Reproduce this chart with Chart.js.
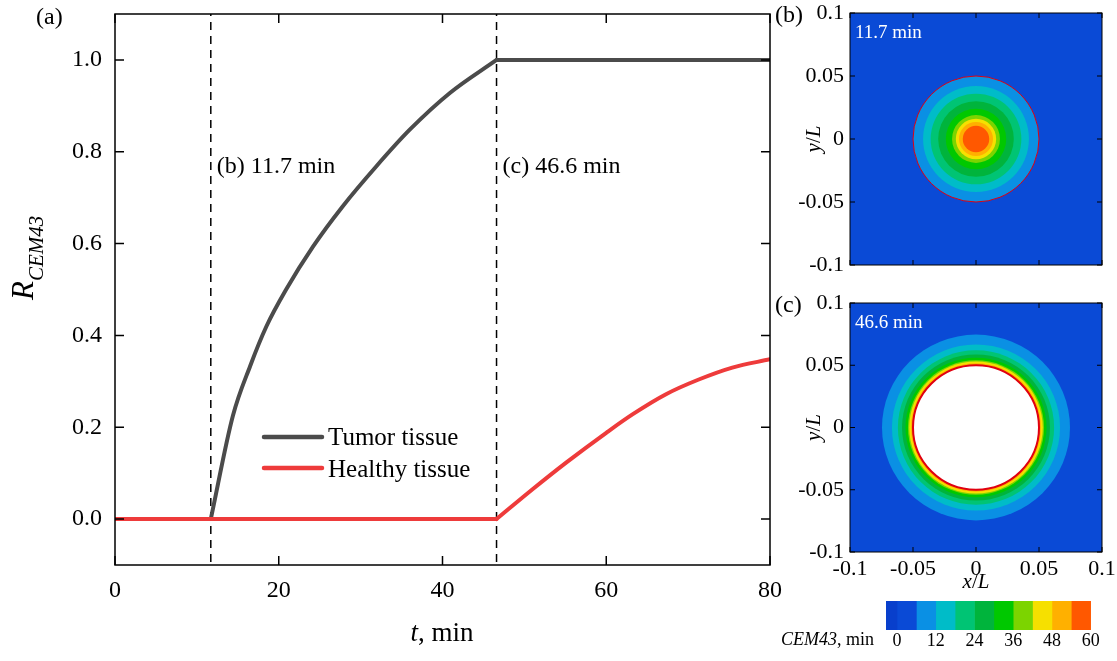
<!DOCTYPE html>
<html>
<head>
<meta charset="utf-8">
<script src="https://cdn.jsdelivr.net/npm/chart.js@4.4.0/dist/chart.umd.min.js"></script>
<style>
    html, body { margin: 0; padding: 0; background: #fff; }
    #page { position: relative; width: 1117px; height: 661px; overflow: hidden; }
    canvas { position: absolute; }
</style>
</head>
<body>
<div id="page">
    <canvas id="mainChart" width="790" height="661" style="left:0;top:0"></canvas>
    <canvas id="panelB" width="347" height="290" style="left:770px;top:0"></canvas>
    <canvas id="panelC" width="347" height="305" style="left:770px;top:290px"></canvas>
    <canvas id="colorBar" width="347" height="66" style="left:770px;top:595px"></canvas>
</div>
<script>
"use strict";

var FONT = "'Liberation Serif', 'Times New Roman', serif";

// ---- panel (a): R_CEM43 against time ----
var timeTicks = [0, 20, 40, 60, 80];
var ratioTicks = [0, 0.2, 0.4, 0.6, 0.8, 1.0];
var markerTimes = [11.7, 46.6];
var markerLabels = ['(b) 11.7 min', '(c) 46.6 min'];

var tumorT = [0, 11.7, 14.4, 16.5, 18.5, 20.9, 24.2, 27.8, 31.9, 36.0, 40.9, 46.6, 80];
var tumorR = [0, 0, 0.225, 0.333, 0.42, 0.50, 0.594, 0.681, 0.768, 0.848, 0.928, 1.0, 1.0];

var healthyT = [0, 46.6, 51.0, 55.1, 60.0, 63.2, 67.3, 71.3, 75.4, 80];
var healthyR = [0, 0, 0.065, 0.123, 0.188, 0.228, 0.272, 0.304, 0.330, 0.348];

// ---- panels (b), (c): CEM43 contours ----
var panelTicks = [-0.1, -0.05, 0, 0.05, 0.1];
var tumorRadius = 0.05;
// outer radius of each CEM43 band 6-12, 12-18, ... 54-60 min
var ringRadiusB = [0.05, 0.042, 0.036, 0.030, 0.024, 0.019, 0.016, 0.0135, 0.0105];
var ringRadiusC = [0.0746, 0.0667, 0.062, 0.0587, 0.056, 0.054, 0.053, 0.0516, 0.0505];
var holeRadiusC = 0.05;   // region above 60 min

// ---- colour bar ----
var cbTicks = [0, 12, 24, 36, 48, 60];
var cbLevels = [-3.4, 0, 6, 12, 18, 24, 30, 36, 42, 48, 54, 60, 62.9];
var cbColors = ['#083fcc', '#0a4ad6', '#0a90e4', '#00bcc8', '#00c474', '#00b43c',
    '#00c800', '#7cd400', '#f6e000', '#ffb000', '#ff5800', '#ffffff'];
var ringColors = cbColors.slice(2, 11);

function pts(ts, rs, from, to) {
    var out = [];
    for (var i = from; i <= to; i++) out.push({ x: ts[i], y: rs[i] });
    return out;
}

function drawRuns(ctx, runs, x, y, align) {
    var total = 0;
    runs.forEach(function (r) {
        ctx.font = r.font;
        r.w = ctx.measureText(r.text).width;
        total += r.w;
    });
    var cx = align === 'center' ? x - total / 2 : (align === 'right' ? x - total : x);
    ctx.textAlign = 'left';
    ctx.textBaseline = 'alphabetic';
    runs.forEach(function (r) {
        ctx.font = r.font;
        ctx.fillText(r.text, cx, y + (r.dy || 0));
        cx += r.w;
    });
}

// frame with ticks pointing inward on all four sides
function drawFrame(chart, len, width) {
    var ctx = chart.ctx, a = chart.chartArea, xs = chart.scales.x, ys = chart.scales.y;
    ctx.save();
    ctx.strokeStyle = '#000';
    ctx.lineWidth = width;
    ctx.strokeRect(a.left, a.top, a.right - a.left, a.bottom - a.top);
    ctx.beginPath();
    xs.ticks.forEach(function (t) {
        var px = xs.getPixelForValue(t.value);
        ctx.moveTo(px, a.bottom); ctx.lineTo(px, a.bottom - len);
        ctx.moveTo(px, a.top); ctx.lineTo(px, a.top + len);
    });
    ys.ticks.forEach(function (t) {
        var py = ys.getPixelForValue(t.value);
        ctx.moveTo(a.left, py); ctx.lineTo(a.left + len, py);
        ctx.moveTo(a.right, py); ctx.lineTo(a.right - len, py);
    });
    ctx.stroke();
    ctx.restore();
}

function setTicks(list) {
    return function (scale) {
        scale.ticks = list.map(function (v) { return { value: v }; });
    };
}

// pin the axis box size and drop the label overflow padding
function fixHeight(h) {
    return function (s) { s.height = h; s.paddingLeft = 0; s.paddingRight = 0; };
}
function fixWidth(w) {
    return function (s) { s.width = w; s.paddingTop = 0; s.paddingBottom = 0; };
}

var noGrid = { display: false, drawTicks: false };

// ================= main chart =================
var tumorColor = '#4b4b4b';
var healthyColor = '#ee3b3b';

function lineSet(data, color, order, smooth) {
    return {
        data: data,
        borderColor: color,
        borderWidth: 4,
        borderCapStyle: 'round',
        pointRadius: 0,
        fill: false,
        order: order,
        cubicInterpolationMode: smooth ? 'monotone' : 'default',
        tension: 0
    };
}

var mainSets = [
    lineSet(pts(healthyT, healthyR, 0, 1), healthyColor, 0, false),
    lineSet(pts(healthyT, healthyR, 1, healthyT.length - 1), healthyColor, 0, true),
    lineSet(pts(tumorT, tumorR, 0, 1), tumorColor, 1, false),
    lineSet(pts(tumorT, tumorR, 1, 11), tumorColor, 1, true),
    lineSet(pts(tumorT, tumorR, 11, 12), tumorColor, 1, false)
];
markerTimes.forEach(function (t) {
    mainSets.push({
        data: [{ x: t, y: 1.1 }, { x: t, y: -0.1 }],
        borderColor: '#000',
        borderWidth: 1.5,
        borderDash: [8, 6],
        borderDashOffset: 6,
        pointRadius: 0,
        order: 2
    });
});

var mainDecor = {
    id: 'mainDecor',
    afterDraw: function (chart) {
        var ctx = chart.ctx, xs = chart.scales.x;
        drawFrame(chart, 9, 1.5);
        ctx.save();
        ctx.fillStyle = '#000';
        // marker captions
        markerTimes.forEach(function (t, i) {
            drawRuns(ctx, [{ text: markerLabels[i], font: '24px ' + FONT }], xs.getPixelForValue(t) + 6, 173, 'left');
        });
        // legend
        var items = [['Tumor tissue', tumorColor, 437, 445], ['Healthy tissue', healthyColor, 468, 477]];
        items.forEach(function (it) {
            ctx.strokeStyle = it[1];
            ctx.lineWidth = 4.5;
            ctx.lineCap = 'round';
            ctx.beginPath();
            ctx.moveTo(264, it[2]); ctx.lineTo(322, it[2]);
            ctx.stroke();
            drawRuns(ctx, [{ text: it[0], font: '25px ' + FONT }], 328, it[3], 'left');
        });
        // panel label
        drawRuns(ctx, [{ text: '(a)', font: '24px ' + FONT }], 36, 24, 'left');
        // x title
        drawRuns(ctx, [{ text: 't', font: 'italic 27px ' + FONT }, { text: ', min', font: '27px ' + FONT }], 442, 641, 'center');
        // y title
        ctx.translate(33, 300);
        ctx.rotate(-Math.PI / 2);
        drawRuns(ctx, [{ text: 'R', font: 'italic 31px ' + FONT }, { text: 'CEM43', font: 'italic 21px ' + FONT, dy: 10 }], 0, 0, 'left');
        ctx.restore();
    }
};

new Chart(document.getElementById('mainChart'), {
    type: 'line',
    data: { datasets: mainSets },
    options: {
        responsive: false,
        animation: false,
        layout: { padding: { top: 14, right: 20, left: 0, bottom: 0 } },
        plugins: { legend: { display: false }, tooltip: { enabled: false } },
        scales: {
            x: {
                type: 'linear', min: 0, max: 80,
                afterBuildTicks: setTicks(timeTicks),
                afterFit: fixHeight(96),
                grid: noGrid, border: { display: false },
                ticks: { color: '#000', font: { family: FONT, size: 24 }, padding: 11, maxRotation: 0, autoSkip: false }
            },
            y: {
                type: 'linear', min: -0.1, max: 1.1,
                afterBuildTicks: setTicks(ratioTicks),
                afterFit: fixWidth(115),
                grid: noGrid, border: { display: false },
                ticks: {
                    color: '#000', font: { family: FONT, size: 24 }, padding: 13,
                    callback: function (v) { return v.toFixed(1); }
                }
            }
        }
    },
    plugins: [mainDecor]
});

// ================= contour panels =================
function makePanel(id, radii, hole, label, timeText, xHeight) {
    var decor = {
        id: 'rings',
        beforeDatasetsDraw: function (chart) {
            var ctx = chart.ctx, a = chart.chartArea, xs = chart.scales.x, ys = chart.scales.y;
            var cx = xs.getPixelForValue(0), cy = ys.getPixelForValue(0);
            function disc(r, color) {
                var rx = Math.abs(xs.getPixelForValue(r) - cx), ry = Math.abs(ys.getPixelForValue(r) - cy);
                ctx.beginPath();
                ctx.ellipse(cx, cy, rx, ry, 0, 0, Math.PI * 2);
                ctx.fillStyle = color;
                ctx.fill();
            }
            ctx.save();
            ctx.beginPath();
            ctx.rect(a.left, a.top, a.right - a.left, a.bottom - a.top);
            ctx.clip();
            ctx.fillStyle = cbColors[1];
            ctx.fillRect(a.left, a.top, a.right - a.left, a.bottom - a.top);
            radii.forEach(function (r, i) { disc(r, ringColors[i]); });
            if (hole) disc(hole, '#ffffff');
            var rx = Math.abs(xs.getPixelForValue(tumorRadius) - cx), ry = Math.abs(ys.getPixelForValue(tumorRadius) - cy);
            ctx.beginPath();
            ctx.ellipse(cx, cy, rx, ry, 0, 0, Math.PI * 2);
            ctx.strokeStyle = '#e00010';
            ctx.lineWidth = hole ? 2 : 1;
            ctx.stroke();
            ctx.restore();
        },
        afterDraw: function (chart) {
            var ctx = chart.ctx, a = chart.chartArea;
            drawFrame(chart, 5, 1);
            ctx.save();
            ctx.fillStyle = '#000';
            drawRuns(ctx, [{ text: label, font: '24px ' + FONT }], 5, a.top + 9, 'left');
            ctx.fillStyle = '#ffffff';
            drawRuns(ctx, [{ text: timeText, font: '19px ' + FONT }], a.left + 5, a.top + 25, 'left');
            ctx.fillStyle = '#000';
            if (xHeight > 30) {
                drawRuns(ctx, [{ text: 'x', font: 'italic 21px ' + FONT }, { text: '/', font: '21px ' + FONT }, { text: 'L', font: 'italic 21px ' + FONT }],
                    (a.left + a.right) / 2, a.bottom + 36, 'center');
            }
            ctx.translate(50, (a.top + a.bottom) / 2);
            ctx.rotate(-Math.PI / 2);
            drawRuns(ctx, [{ text: 'y', font: 'italic 21px ' + FONT }, { text: '/', font: '21px ' + FONT }, { text: 'L', font: 'italic 21px ' + FONT }], 0, 0, 'center');
            ctx.restore();
        }
    };
    var fmt = function (v) { return String(Math.round(v * 100) / 100); };
    return new Chart(document.getElementById(id), {
        type: 'scatter',
        data: { datasets: [{ data: [{ x: 0, y: 0 }], pointRadius: 0 }] },
        options: {
            responsive: false,
            animation: false,
            layout: { padding: { top: 13, right: 15, left: 0, bottom: 0 } },
            plugins: { legend: { display: false }, tooltip: { enabled: false } },
            scales: {
                x: {
                    type: 'linear', min: -0.1, max: 0.1,
                    afterBuildTicks: setTicks(panelTicks),
                    afterFit: fixHeight(xHeight),
                    grid: noGrid, border: { display: false },
                    ticks: { display: xHeight > 30, color: '#000', font: { family: FONT, size: 22 }, padding: 4, maxRotation: 0, autoSkip: false, callback: fmt }
                },
                y: {
                    type: 'linear', min: -0.1, max: 0.1,
                    afterBuildTicks: setTicks(panelTicks),
                    afterFit: fixWidth(80),
                    grid: noGrid, border: { display: false },
                    ticks: { color: '#000', font: { family: FONT, size: 22 }, padding: 6, autoSkip: false, callback: fmt }
                }
            }
        },
        plugins: [decor]
    });
}

makePanel('panelB', ringRadiusB, 0, '(b)', '11.7 min', 25);
makePanel('panelC', ringRadiusC, holeRadiusC, '(c)', '46.6 min', 43);

// ================= colour bar =================
var cbSets = cbColors.map(function (c, i) {
    return {
        data: [[cbLevels[i], cbLevels[i + 1]]],
        backgroundColor: c,
        borderWidth: 0,
        grouped: false,
        barPercentage: 1,
        categoryPercentage: 1
    };
});

new Chart(document.getElementById('colorBar'), {
    type: 'bar',
    data: { labels: [''], datasets: cbSets },
    options: {
        indexAxis: 'y',
        responsive: false,
        animation: false,
        layout: { padding: { top: 6, right: 17, left: 116, bottom: 0 } },
        plugins: { legend: { display: false }, tooltip: { enabled: false } },
        scales: {
            x: {
                type: 'linear', min: cbLevels[0], max: cbLevels[cbLevels.length - 1],
                afterBuildTicks: setTicks(cbTicks),
                afterFit: fixHeight(31),
                grid: noGrid, border: { display: false },
                ticks: { color: '#000', font: { family: FONT, size: 18 }, padding: 0, maxRotation: 0, autoSkip: false }
            },
            y: { display: false }
        }
    },
    plugins: [{
        id: 'cbTitle',
        afterDraw: function (chart) {
            var ctx = chart.ctx;
            ctx.save();
            ctx.fillStyle = '#000';
            drawRuns(ctx, [{ text: 'CEM43', font: 'italic 18px ' + FONT }, { text: ', min', font: '18px ' + FONT }], 104, 50, 'right');
            ctx.restore();
        }
    }]
});
</script>
</body>
</html>
